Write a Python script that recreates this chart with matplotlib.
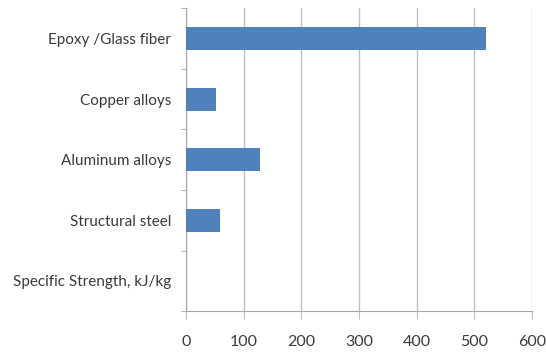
import numpy as np
import matplotlib.pyplot as plt

# categories listed bottom to top, as drawn
categories = ["Specific Strength, kJ/kg", "Structural steel", "Aluminum alloys",
              "Copper alloys", "Epoxy /Glass fiber"]
values = [0, 58, 128, 51, 520]
xticks = [0, 100, 200, 300, 400, 500, 600]

plt.rcParams['font.family'] = ['Lato', 'DejaVu Sans']

fig = plt.figure(figsize=(5.46, 3.56), dpi=100)
ax = fig.add_axes([0.341, 0.126, 0.633, 0.851])

y = np.arange(len(categories))
ax.barh(y, values, height=0.38, color="#4F81BD", zorder=3)

ax.set_xlim(0, 600)
ax.set_ylim(-0.5, len(categories) - 0.5)
ax.set_xticks(xticks)
ax.set_xticklabels([str(t) for t in xticks])
ax.set_yticks(y)
ax.set_yticklabels(categories)
ax.set_yticks(np.arange(-0.5, len(categories)), minor=True)

# grid and axis styling
ax.grid(axis='x', color="#BFBFBF", linewidth=1.0, zorder=0)
for s in ['top', 'right']:
    ax.spines[s].set_visible(False)
for s in ['left', 'bottom']:
    ax.spines[s].set_color("#A6A6A6")
ax.tick_params(axis='y', which='major', length=0, pad=11, labelsize=11, labelcolor="#3A3A3A")
ax.tick_params(axis='y', which='minor', length=3.5, color="#A6A6A6")
ax.tick_params(axis='x', which='major', length=5.5, color="#BFBFBF", pad=12, labelsize=11.5, labelcolor="#3A3A3A")

fig.savefig("out.png", dpi=100)
